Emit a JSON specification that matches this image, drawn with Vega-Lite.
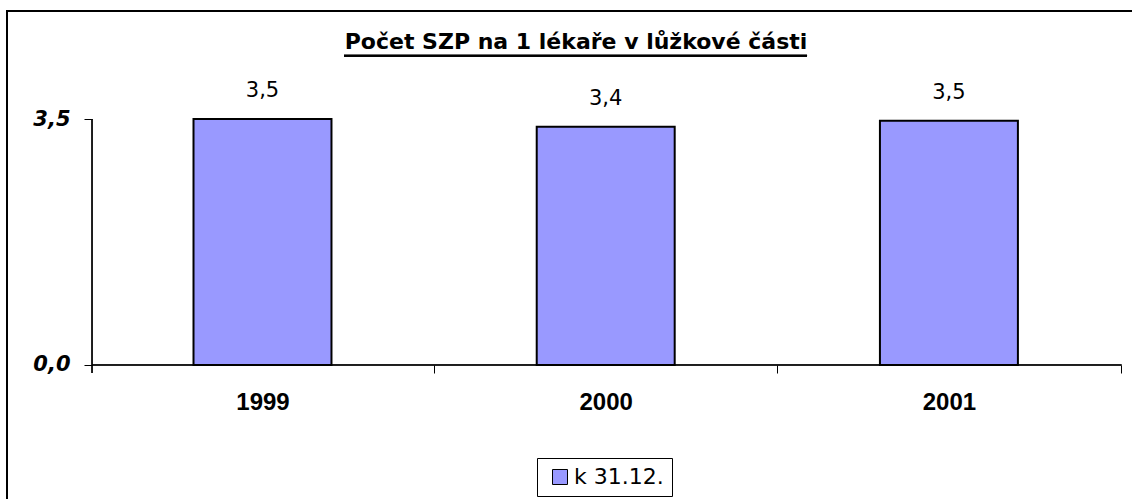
{
  "$schema": "https://vega.github.io/schema/vega-lite/v6.json",
  "width": 1130,
  "height": 490,
  "autosize": {"type": "none"},
  "padding": {"left": 7, "top": 11, "right": -5, "bottom": -2},
  "background": "white",
  "config": {
    "locale": {"number": {"decimal": ",", "thousands": " ", "grouping": [3], "currency": ["", " Kč"]}},
    "view": {"stroke": "#000000", "strokeWidth": 2},
    "font": "Liberation Sans"
  },
  "title": {
    "text": "Počet SZP na 1 lékaře v lůžkové části",
    "font": "DejaVu Sans",
    "fontSize": 22,
    "fontWeight": "bold",
    "color": "#000000",
    "anchor": "middle",
    "offset": -43,
    "dx": 4
  },
  "data": {
    "values": [
      {"year": "1999", "value": 3.5, "series": "k 31.12."},
      {"year": "2000", "value": 3.39, "series": "k 31.12."},
      {"year": "2001", "value": 3.475, "series": "k 31.12."}
    ]
  },
  "layer": [
    {
      "mark": {"type": "bar", "stroke": "#000000", "strokeWidth": 2},
      "encoding": {
        "x": {
          "field": "year",
          "type": "nominal",
          "scale": {"paddingInner": 0.598, "paddingOuter": 0.4452, "align": 0.6103},
          "axis": {
            "title": null,
            "orient": "bottom",
            "offset": -136,
            "domain": false,
            "bandPosition": 1,
            "tickExtra": false,
            "tickOffset": 102.6,
            "labelOffset": -102.6,
            "ticks": true,
            "tickSize": 8,
            "tickColor": "#000000",
            "tickWidth": 1,
            "labelAngle": 0,
            "labelFont": "Liberation Sans",
            "labelFontSize": 24,
            "labelFontWeight": "bold",
            "labelColor": "#000000",
            "labelPadding": 17
          }
        },
        "y": {
          "field": "value",
          "type": "quantitative",
          "scale": {"domain": [-1.935, 5.0366], "nice": false, "zero": false},
          "axis": {
            "title": null,
            "values": [0, 3.5],
            "format": ".1f",
            "offset": -85,
            "domain": false,
            "grid": false,
            "tickSize": 8,
            "tickColor": "#000000",
            "tickWidth": 1,
            "labelFont": "DejaVu Sans",
            "labelFontSize": 21,
            "labelFontWeight": "bold",
            "labelFontStyle": "italic",
            "labelColor": "#000000",
            "labelPadding": 14
          }
        },
        "y2": {"datum": 0},
        "color": {
          "field": "series",
          "type": "nominal",
          "scale": {"range": ["#9999FF"]},
          "legend": {
            "title": null,
            "orient": "none",
            "legendX": 530,
            "legendY": 447,
            "padding": 8,
            "strokeColor": "#000000",
            "fillColor": "#FFFFFF",
            "symbolType": "square",
            "symbolSize": 225,
            "symbolOffset": 4,
            "symbolStrokeColor": "#000000",
            "symbolStrokeWidth": 1,
            "symbolOpacity": 1,
            "labelFont": "DejaVu Sans",
            "labelFontSize": 22,
            "labelColor": "#000000",
            "labelOffset": 3
          }
        }
      }
    },
    {
      "mark": {"type": "text", "baseline": "middle", "dy": -28, "fontSize": 21, "font": "DejaVu Sans", "color": "#000000"},
      "encoding": {
        "x": {"field": "year", "type": "nominal"},
        "y": {"field": "value", "type": "quantitative"},
        "text": {"field": "value", "type": "quantitative", "format": ".1f"}
      }
    },
    {
      "mark": {"type": "rule", "color": "#000000", "strokeWidth": 1},
      "encoding": {
        "x": {"datum": "1999", "type": "nominal", "bandPosition": -0.7355},
        "x2": {"datum": "2001", "bandPosition": 1.7514},
        "y": {"datum": 0, "type": "quantitative"}
      }
    },
    {
      "mark": {"type": "rule", "color": "#000000", "strokeWidth": 1},
      "encoding": {
        "x": {"datum": "1999", "type": "nominal", "bandPosition": -0.7355},
        "y": {"datum": -0.1138, "type": "quantitative"},
        "y2": {"datum": 3.5}
      }
    },
    {
      "mark": {"type": "rule", "color": "#000000", "strokeWidth": 2},
      "encoding": {
        "x": {"datum": "1999", "type": "nominal", "bandPosition": 1.0908},
        "x2": {"datum": "2001", "bandPosition": -0.5284},
        "y": {"datum": 4.4006, "type": "quantitative"}
      }
    }
  ]
}
